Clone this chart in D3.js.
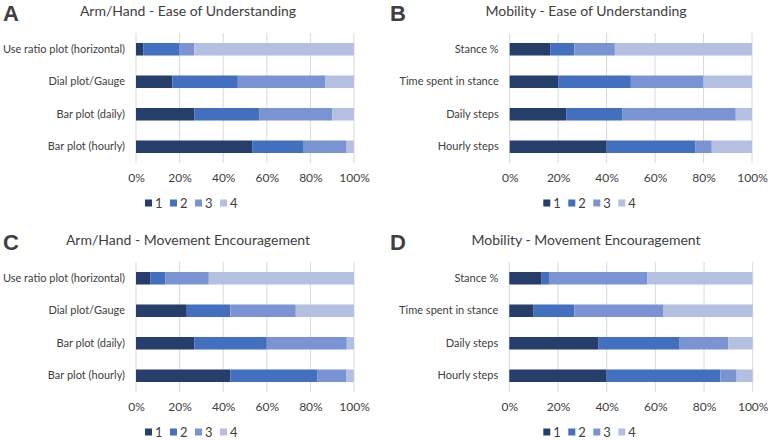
<!DOCTYPE html>
<html><head><meta charset="utf-8">
<script src="https://cdn.jsdelivr.net/npm/d3@7"></script>
<style>body{margin:0;background:#fff}svg{display:block}text{font-family:Lato, "Noto Sans", sans-serif;fill:#404040}</style>
</head><body>
<svg id="c" width="768" height="440"></svg>
<script>
const armCategories = ["Use ratio plot (horizontal)", "Dial plot/Gauge", "Bar plot (daily)", "Bar plot (hourly)"];
const mobCategories = ["Stance %", "Time spent in stance", "Daily steps", "Hourly steps"];
const seriesKeys = ["1", "2", "3", "4"];
const xTicks = [0, 20, 40, 60, 80, 100];

// Percent of responses per rating, one array per series (rows in category order)
const armEase1 = [3.3, 16.7, 26.7, 53.3];
const armEase2 = [16.7, 30.0, 30.0, 23.3];
const armEase3 = [6.7, 40.0, 33.3, 20.0];
const armEase4 = [73.3, 13.3, 10.0, 3.3];

const mobEase1 = [16.7, 20.0, 23.3, 40.0];
const mobEase2 = [10.0, 30.0, 23.3, 36.7];
const mobEase3 = [16.7, 30.0, 46.7, 6.7];
const mobEase4 = [56.7, 20.0, 6.7, 16.7];

const armMove1 = [6.7, 23.3, 26.7, 43.3];
const armMove2 = [6.7, 20.0, 33.3, 40.0];
const armMove3 = [20.0, 30.0, 36.7, 13.3];
const armMove4 = [66.7, 26.7, 3.3, 3.3];

const mobMove1 = [13.3, 10.0, 36.7, 40.0];
const mobMove2 = [3.3, 16.7, 33.3, 46.7];
const mobMove3 = [40.0, 36.7, 20.0, 6.7];
const mobMove4 = [43.3, 36.7, 10.0, 6.7];

const colors = ["#263e6a", "#4270be", "#7a93d2", "#b3c0e1"];

const panels = [
  {letter:"A", title:"Arm/Hand - Ease of Understanding", cats:armCategories, series:[armEase1,armEase2,armEase3,armEase4],
   ox:0, oy:0, x0:136, x1:354, titleX:188, legX:145, lx:3},
  {letter:"B", title:"Mobility - Ease of Understanding", cats:mobCategories, series:[mobEase1,mobEase2,mobEase3,mobEase4],
   ox:384, oy:0, x0:125.7, x1:368, titleX:202, legX:159.3, lx:6},
  {letter:"C", title:"Arm/Hand - Movement Encouragement", cats:armCategories, series:[armMove1,armMove2,armMove3,armMove4],
   ox:0, oy:229, x0:136, x1:354, titleX:188, legX:145, lx:3},
  {letter:"D", title:"Mobility - Movement Encouragement", cats:mobCategories, series:[mobMove1,mobMove2,mobMove3,mobMove4],
   ox:384, oy:229, x0:125.3, x1:368.7, titleX:202, legX:159.3, lx:6}
];

const svg = d3.select("#c");

panels.forEach(p => {
  const g = svg.append("g").attr("transform", `translate(${p.ox},${p.oy})`);
  const x = d3.scaleLinear().domain([0,100]).range([p.x0, p.x1]);
  const y = d3.scaleBand().domain(p.cats).range([33,163]).paddingInner(0.615).paddingOuter(0.3075);

  // gridlines
  g.append("g").selectAll("line").data(xTicks).join("line")
    .attr("x1", d=>x(d)).attr("x2", d=>x(d)).attr("y1", 33).attr("y2", 163)
    .attr("stroke", "#d9d9d9").attr("stroke-width", 1);

  // stacked data
  const rows = p.cats.map((c,i) => { const o = {cat:c}; seriesKeys.forEach((k,j)=> o[k] = p.series[j][i]); return o; });
  const stacked = d3.stack().keys(seriesKeys)(rows);
  g.append("g").selectAll("g").data(stacked).join("g")
    .attr("fill", (d,i)=>colors[i])
    .selectAll("rect").data(d=>d).join("rect")
    .attr("x", d=>x(d[0])).attr("width", d=>Math.max(0, x(Math.min(100,d[1]))-x(d[0])))
    .attr("y", d=>y(d.data.cat)).attr("height", y.bandwidth());

  // category labels
  const yAxis = d3.axisLeft(y).tickSize(0).tickPadding(11);
  const ya = g.append("g").attr("transform", `translate(${p.x0},0)`).call(yAxis);
  ya.select(".domain").remove();
  ya.selectAll("text").attr("font-size", 11).style("font-family","Lato, sans-serif").attr("fill","#404040");

  // x tick labels
  const xAxis = d3.axisBottom(x).tickValues(xTicks).tickFormat(d=>d+"%").tickSize(0).tickPadding(0);
  const xa = g.append("g").attr("transform", `translate(0,174)`).call(xAxis);
  xa.select(".domain").remove();
  xa.selectAll("text").attr("font-size", 12).attr("dy", "0.7em").style("font-family","Lato, sans-serif").attr("fill","#404040");

  // title
  g.append("text").attr("x", p.titleX).attr("y", 11).attr("dy","0.35em").attr("text-anchor","middle")
    .attr("font-size", 14).text(p.title);
  // panel letter
  g.append("text").attr("x", p.lx).attr("y", 21).attr("font-size", 22).attr("font-weight", "bold")
    .style("font-family","'Liberation Sans', Arial, sans-serif").attr("fill","#000").text(p.letter);

  // legend
  const step = 25;
  const lg = g.append("g").attr("transform", `translate(${p.legX},203)`);
  const items = lg.selectAll("g").data(seriesKeys).join("g").attr("transform", (d,i)=>`translate(${i*step},0)`);
  items.append("rect").attr("x",0).attr("y",-3.5).attr("width",7).attr("height",7).attr("fill",(d,i)=>colors[i]);
  items.append("text").attr("x",10).attr("y",0).attr("dy","0.35em").attr("font-size",13).text(d=>d);
});
</script>
</body></html>
